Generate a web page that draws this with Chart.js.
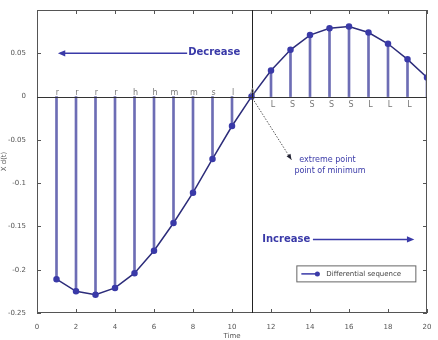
<!DOCTYPE html>
<html>
<head>
<meta charset="utf-8">
<script src="https://cdn.jsdelivr.net/npm/chart.js@4/dist/chart.umd.min.js"></script>
<style>
  html, body { margin: 0; padding: 0; background: #fff; }
  #wrap { width: 438px; height: 340px; }
</style>
</head>
<body>
<div id="wrap"><canvas id="chart"></canvas></div>
<script>
// data
const times = [1, 2, 3, 4, 5, 6, 7, 8, 9, 10, 11, 12, 13, 14, 15, 16, 17, 18, 19, 20];
const diffSeq = [-0.211, -0.225, -0.229, -0.221, -0.204, -0.178, -0.146, -0.111, -0.072, -0.034,
  0, 0.030, 0.054, 0.071, 0.079, 0.081, 0.074, 0.061, 0.043, 0.022];
const topLetters = ["r", "r", "r", "r", "h", "h", "m", "m", "s", "l", "A"];
const bottomLetters = ["", "", "", "", "", "", "", "", "", "", "", "L", "S", "S", "S", "S", "L", "L", "L", ""];
const xTicks = [0, 2, 4, 6, 8, 10, 12, 14, 16, 18, 20];
const yTicks = [-0.25, -0.2, -0.15, -0.1, -0.05, 0, 0.05, 0.1];
const extremeX = 11;

const blue = "#3a3aa8";
const stemColor = "#6d6db5";

function arrow(ctx, x1, y1, x2, y2, size) {
  const a = Math.atan2(y2 - y1, x2 - x1);
  ctx.beginPath();
  ctx.moveTo(x2, y2);
  ctx.lineTo(x2 - size * Math.cos(a - 0.4), y2 - size * Math.sin(a - 0.4));
  ctx.lineTo(x2 - size * Math.cos(a + 0.4), y2 - size * Math.sin(a + 0.4));
  ctx.closePath();
  ctx.fill();
}

const extras = {
  id: "extras",
  afterDatasetsDraw(chart) {
    const ctx = chart.ctx;
    const xs = chart.scales.x, ys = chart.scales.y;
    const a = chart.chartArea;
    ctx.save();

    // box and inward ticks
    ctx.strokeStyle = "#555";
    ctx.lineWidth = 1;
    ctx.strokeRect(a.left + 0.5, a.top + 0.5, a.right - a.left - 1, a.bottom - a.top - 1);
    ctx.beginPath();
    xTicks.forEach((t) => {
      const px = Math.round(xs.getPixelForValue(t)) + 0.5;
      ctx.moveTo(px, a.bottom); ctx.lineTo(px, a.bottom - 4);
      ctx.moveTo(px, a.top); ctx.lineTo(px, a.top + 4);
    });
    yTicks.forEach((t) => {
      const py = Math.round(ys.getPixelForValue(t)) + 0.5;
      ctx.moveTo(a.left, py); ctx.lineTo(a.left + 4, py);
      ctx.moveTo(a.right, py); ctx.lineTo(a.right - 4, py);
    });
    ctx.stroke();

    // zero line
    const y0 = Math.round(ys.getPixelForValue(0)) + 0.5;
    ctx.strokeStyle = "#333";
    ctx.beginPath();
    ctx.moveTo(a.left, y0); ctx.lineTo(a.right, y0);
    ctx.stroke();

    // vertical line at the extreme point
    const xe = Math.round(xs.getPixelForValue(extremeX)) + 0.5;
    ctx.strokeStyle = "#222";
    ctx.beginPath();
    ctx.moveTo(xe, a.top); ctx.lineTo(xe, a.bottom);
    ctx.stroke();

    // letters
    ctx.fillStyle = "#777";
    ctx.font = "8px 'DejaVu Sans'";
    ctx.textAlign = "center";
    ctx.textBaseline = "bottom";
    topLetters.forEach((l, i) => {
      ctx.fillText(l, xs.getPixelForValue(times[i]) + 1, y0 - 1);
    });
    ctx.textBaseline = "top";
    bottomLetters.forEach((l, i) => {
      if (l) ctx.fillText(l, xs.getPixelForValue(times[i]) + 2, y0 + 3);
    });

    // Decrease
    ctx.fillStyle = blue;
    ctx.strokeStyle = blue;
    ctx.lineWidth = 1.5;
    const yd = ys.getPixelForValue(0.05);
    ctx.beginPath();
    ctx.moveTo(xs.getPixelForValue(7.7), yd); ctx.lineTo(xs.getPixelForValue(1.2), yd);
    ctx.stroke();
    arrow(ctx, xs.getPixelForValue(7.7), yd, xs.getPixelForValue(1.07), yd, 8);
    ctx.font = "bold 10px 'DejaVu Sans'";
    ctx.textAlign = "left";
    ctx.textBaseline = "middle";
    ctx.fillText("Decrease", xs.getPixelForValue(7.75), yd - 1);

    // Increase
    const yi = ys.getPixelForValue(-0.165);
    ctx.fillText("Increase", xs.getPixelForValue(11.55), yi);
    ctx.beginPath();
    ctx.moveTo(xs.getPixelForValue(14.15), yi); ctx.lineTo(xs.getPixelForValue(19.1), yi);
    ctx.stroke();
    arrow(ctx, xs.getPixelForValue(14.15), yi, xs.getPixelForValue(19.35), yi, 8);

    // dotted arrow to the extreme point note
    ctx.lineWidth = 1;
    ctx.strokeStyle = "#555";
    ctx.setLineDash([1.5, 1.5]);
    const x1 = xs.getPixelForValue(11.05), y1 = ys.getPixelForValue(-0.002);
    const x2 = xs.getPixelForValue(13.05), y2 = ys.getPixelForValue(-0.073);
    ctx.beginPath();
    ctx.moveTo(x1, y1); ctx.lineTo(x2, y2);
    ctx.stroke();
    ctx.setLineDash([]);
    ctx.fillStyle = "#223";
    arrow(ctx, x1, y1, x2, y2, 6);
    ctx.fillStyle = blue;
    ctx.font = "8px 'DejaVu Sans'";
    ctx.fillText("extreme point", xs.getPixelForValue(13.45), ys.getPixelForValue(-0.073));
    ctx.fillText("point of minimum", xs.getPixelForValue(13.2), ys.getPixelForValue(-0.086));

    // legend
    const lx = xs.getPixelForValue(13.3), ly = ys.getPixelForValue(-0.195);
    ctx.fillStyle = "#fff";
    ctx.fillRect(lx, ly, 119, 16);
    ctx.strokeStyle = "#666";
    ctx.strokeRect(lx + 0.5, ly + 0.5, 119, 16);
    ctx.strokeStyle = blue;
    ctx.lineWidth = 1.5;
    ctx.beginPath();
    ctx.moveTo(lx + 5, ly + 8.5); ctx.lineTo(lx + 23, ly + 8.5);
    ctx.stroke();
    ctx.fillStyle = blue;
    ctx.beginPath();
    ctx.arc(lx + 21, ly + 8.5, 2.5, 0, Math.PI * 2);
    ctx.fill();
    ctx.fillStyle = "#444";
    ctx.font = "7px 'DejaVu Sans'";
    ctx.fillText("Differential sequence", lx + 30, ly + 9);

    ctx.restore();
  }
};

new Chart(document.getElementById("chart"), {
  type: "line",
  data: {
    datasets: [
      {
        label: "Differential sequence",
        data: times.map((t, i) => ({ x: t, y: diffSeq[i] })),
        borderColor: "#2c2c7a",
        borderWidth: 1.5,
        pointRadius: 2.5,
        pointBackgroundColor: blue,
        pointBorderColor: blue,
        tension: 0,
        order: 0
      },
      {
        type: "bar",
        label: "stems",
        data: times.map((t, i) => ({ x: t, y: [0, diffSeq[i]] })),
        backgroundColor: stemColor,
        barThickness: 2,
        order: 1
      }
    ]
  },
  options: {
    responsive: true,
    maintainAspectRatio: false,
    animation: false,
    layout: { padding: { top: 10, right: 11, left: 0, bottom: 0 } },
    plugins: { legend: { display: false }, tooltip: { enabled: false } },
    scales: {
      x: {
        type: "linear",
        min: 0,
        max: 20,
        offset: false,
        grid: { display: false },
        border: { display: false },
        afterBuildTicks: (s) => { s.ticks = xTicks.map((v) => ({ value: v })); },
        afterFit: (s) => { s.height = 27; },
        ticks: { color: "#555", font: { size: 7, family: "'DejaVu Sans'" }, padding: 2, maxRotation: 0 },
        title: { display: true, text: "Time", color: "#555", font: { size: 7, family: "'DejaVu Sans'" }, padding: 0 }
      },
      y: {
        min: -0.25,
        max: 0.1,
        grid: { display: false },
        border: { display: false },
        afterBuildTicks: (s) => { s.ticks = yTicks.map((v) => ({ value: v })); },
        afterFit: (s) => { s.width = 37; },
        ticks: {
          color: "#555",
          font: { size: 7, family: "'DejaVu Sans'" },
          padding: 3,
          callback: (v) => (v === 0.1 ? "" : String(Math.round(v * 100) / 100))
        },
        title: { display: true, text: "X d(t)", color: "#555", font: { size: 7, family: "'DejaVu Sans'" }, padding: 0 }
      }
    }
  },
  plugins: [extras]
});
</script>
</body>
</html>
